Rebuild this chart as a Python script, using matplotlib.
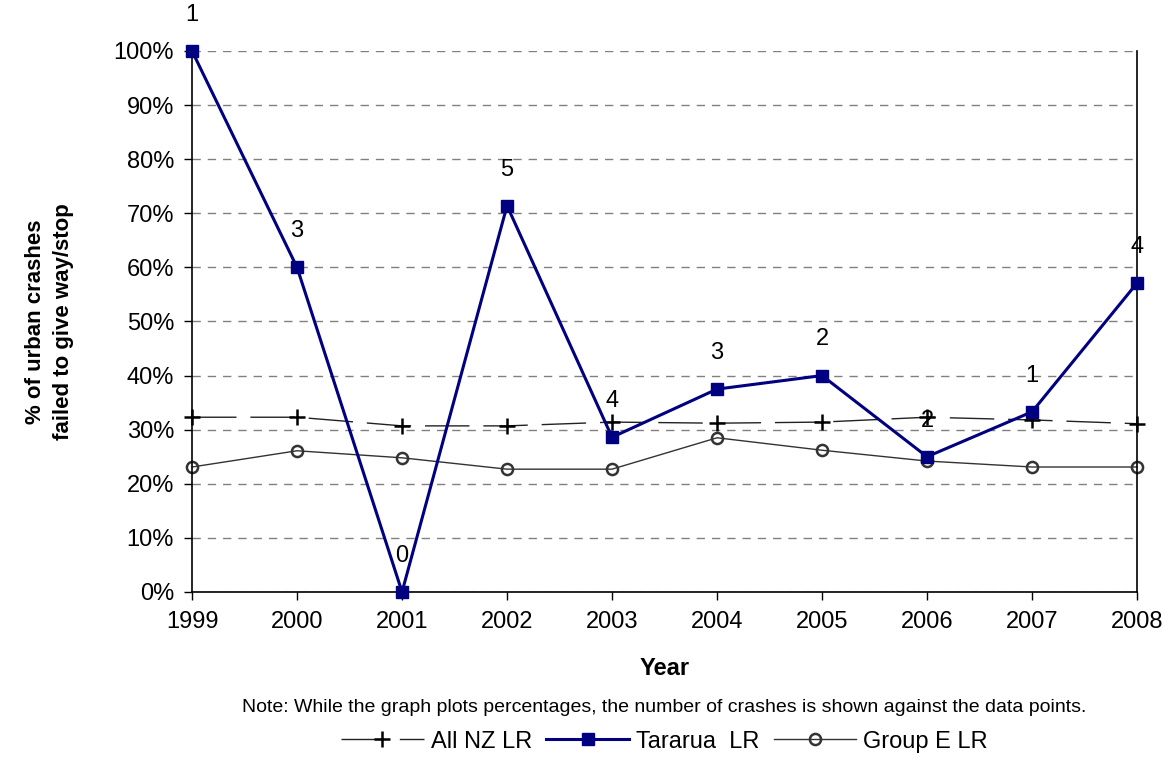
import matplotlib.pyplot as plt
from matplotlib.ticker import PercentFormatter

plt.rcParams['font.family'] = ['Liberation Sans', 'DejaVu Sans']

years = [1999, 2000, 2001, 2002, 2003, 2004, 2005, 2006, 2007, 2008]
all_nz = [32.3, 32.3, 30.7, 30.7, 31.4, 31.2, 31.4, 32.3, 31.8, 31.1]
tararua = [100, 60, 0, 71.4, 28.6, 37.5, 40, 25, 33.3, 57.1]
group_e = [23.1, 26.1, 24.8, 22.7, 22.7, 28.5, 26.2, 24.2, 23.1, 23.1]
crash_counts = ["1", "3", "0", "5", "4", "3", "2", "2", "1", "4"]

fig = plt.figure(figsize=(11.71, 7.71), dpi=100)
ax = fig.add_axes([0.164, 0.2322, 0.807, 0.7017])

ax.plot(years, all_nz, color="#222222", lw=1, dashes=(32, 10), marker="+",
        ms=11, mew=1.8, mec="black", label="All NZ LR", clip_on=False)
ax.plot(years, tararua, color="#000080", lw=2.2, marker="s", ms=9,
        label="Tararua  LR", clip_on=False, zorder=4)
ax.plot(years, group_e, color="#333333", lw=1, marker="o", ms=8, mfc="none",
        mec="#333333", mew=1.8, label="Group E LR", clip_on=False)

for x, y, t in zip(years, tararua, crash_counts):
    ax.annotate(t, (x, y), xytext=(0, 26), textcoords="offset points",
                ha="center", va="center", fontsize=17)

ax.set_xlim(1999, 2008)
ax.set_ylim(0, 100)
ax.set_xticks(years)
ax.set_yticks(range(0, 101, 10))
ax.yaxis.set_major_formatter(PercentFormatter(decimals=0))
ax.tick_params(labelsize=17, direction="out", length=6, width=1)
ax.tick_params(axis="y", pad=7)
ax.tick_params(axis="x", pad=8)
ax.grid(axis="y", color="#808080", linestyle=(0, (6, 5)), lw=1)
ax.spines["top"].set_visible(False)
for s in ["left", "right", "bottom"]:
    ax.spines[s].set_linewidth(1.2)
ax.set_axisbelow(True)

ax.set_xlabel("Year", fontsize=17, fontweight="bold", labelpad=17)
ax.set_ylabel("% of urban crashes\nfailed to give way/stop", fontsize=16,
              fontweight="bold", linespacing=1.45)
ax.yaxis.set_label_coords(-0.125, 0.5)

fig.text(0.5675, 0.083, "Note: While the graph plots percentages, the number of crashes is shown against the data points.",
         ha="center", va="center", fontsize=14)

fig.legend(loc="center", bbox_to_anchor=(0.5675, 0.038), ncol=3, frameon=False,
           fontsize=17, handlelength=3.5, columnspacing=0.6, handletextpad=0.3)

fig.savefig("out.png", dpi=100)
